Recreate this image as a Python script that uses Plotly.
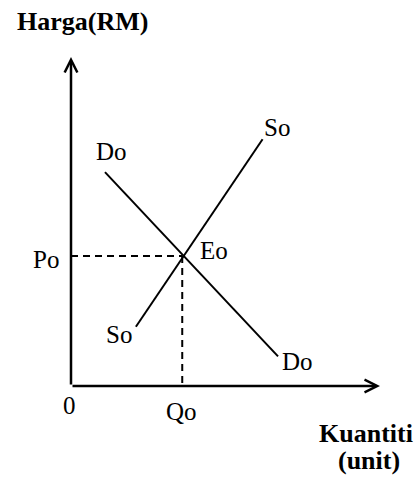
import plotly.graph_objects as go

# curve end points (quantity, price)
demand_q = [1.1, 6.7]
demand_p = [6.5, 0.9]
supply_q = [2.1, 6.2]
supply_p = [1.8, 7.5]

# equilibrium
q_eq = 3.6
p_eq = 3.95

# axis extent
q_max = 10
p_max = 10

# labels: text, quantity, price
curve_labels = [
    ("Do", 1.31, 7.14),
    ("So", 6.68, 7.87),
    ("Eo", 4.63, 4.12),
    ("Po", -0.81, 3.83),
    ("So", 1.54, 1.58),
    ("Do", 7.33, 0.73),
    ("0", -0.06, -0.58),
    ("Qo", 3.59, -0.76),
]
axis_titles = [
    ("Harga(RM)", 0.36, 11.09),
    ("Kuantiti", 9.55, -1.43),
    ("(unit)", 9.63, -2.25),
]

font_reg = dict(family="Liberation Serif", size=25, color="black")
font_bold = dict(family="Liberation Serif", size=26, color="black")

fig = go.Figure()

fig.add_trace(go.Scatter(x=demand_q, y=demand_p, mode="lines",
                         line=dict(color="black", width=2), hoverinfo="skip"))
fig.add_trace(go.Scatter(x=supply_q, y=supply_p, mode="lines",
                         line=dict(color="black", width=2), hoverinfo="skip"))
# dashed guides
fig.add_trace(go.Scatter(x=[0, q_eq], y=[p_eq, p_eq], mode="lines",
                         line=dict(color="black", width=2, dash="7px,5px"), hoverinfo="skip"))
fig.add_trace(go.Scatter(x=[q_eq, q_eq], y=[p_eq, 0], mode="lines",
                         line=dict(color="black", width=2, dash="7px,5px"), hoverinfo="skip"))

# axes with arrows
for hx, hy in [(q_max, 0), (0, p_max)]:
    fig.add_annotation(x=hx, y=hy, ax=0, ay=0, xref="x", yref="y", axref="x", ayref="y",
                       text="", showarrow=True, arrowhead=5, arrowsize=1,
                       arrowwidth=2.5, arrowcolor="black", standoff=0)

# labels placed in paper units so the ones outside the axes still show
for txt, x, y in curve_labels:
    fig.add_annotation(x=x / q_max, y=y / p_max, xref="paper", yref="paper",
                       text=txt, showarrow=False, font=font_reg, borderpad=0,
                       xanchor="center", yanchor="middle")
for txt, x, y in axis_titles:
    fig.add_annotation(x=x / q_max, y=y / p_max, xref="paper", yref="paper",
                       text="<b>" + txt + "</b>", showarrow=False, font=font_bold,
                       borderpad=0, xanchor="center", yanchor="middle")

fig.update_xaxes(range=[0, q_max], visible=False, fixedrange=True)
fig.update_yaxes(range=[0, p_max], visible=False, fixedrange=True)
fig.update_layout(
    width=420, height=477,
    margin=dict(l=71, r=40, t=57, b=91),
    plot_bgcolor="white", paper_bgcolor="white",
    showlegend=False,
)

# drop the default page margin so the figure fills the window
fig.write_html("out.html", config={"displayModeBar": False},
               post_script="document.body.style.margin = '0';")
